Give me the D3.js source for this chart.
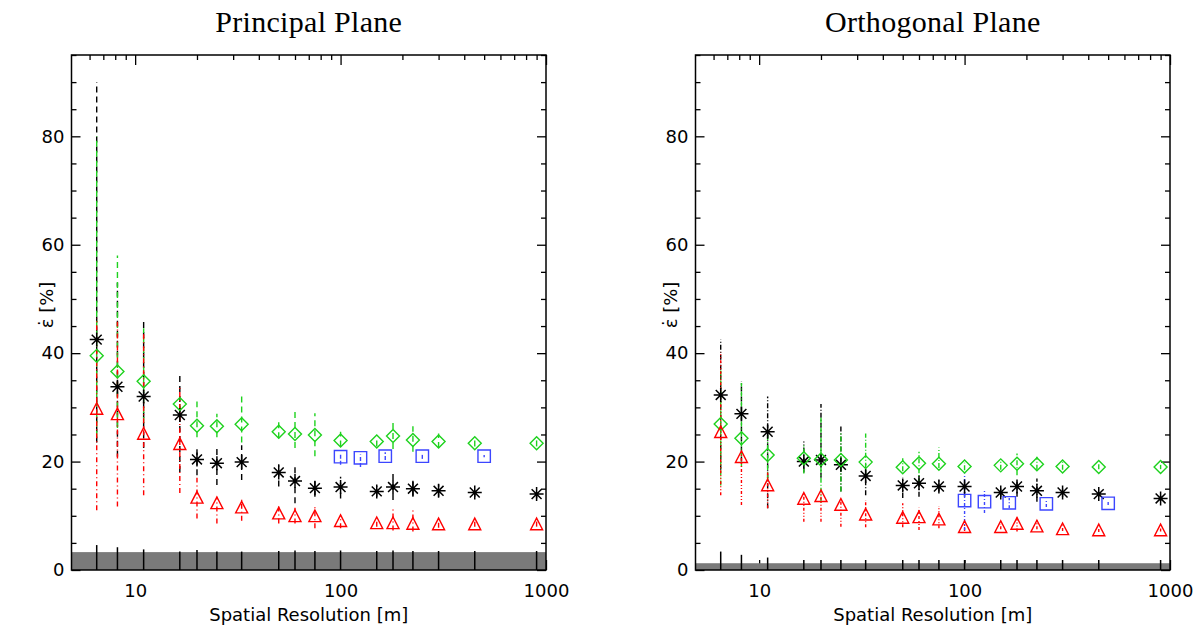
<!DOCTYPE html>
<html><head><meta charset="utf-8">
<script src="https://cdn.jsdelivr.net/npm/d3@7/dist/d3.min.js"></script>
<style>
html,body{margin:0;padding:0;background:#fff;}
svg{display:block;}
</style></head>
<body>
<svg id="chart" width="1204" height="629"></svg>
<script>
// ---------------- DATA ----------------
const titles = ["Principal Plane", "Orthogonal Plane"];
const xLabel = "Spatial Resolution [m]";
const yLabel = "\u03B5\u0307 [%]";
const xTickLabels = [10, 100, 1000];
const yTickLabels = [0, 20, 40, 60, 80];

const resolutions = [6.5, 8.2, 11, 16.5, 20, 25, 33, 50, 60, 75, 100, 150, 180, 225, 300, 450, 900];
const blueRes = [100, 125, 165, 250, 500];

// Principal plane
const ppBlack   = [42.5, 33.8, 32.0, 28.6, 20.4, 19.7, 19.9, 18.0, 16.4, 15.1, 15.3, 14.5, 15.3, 15.0, 14.6, 14.3, 14.0];
const ppBlackHi = [90, 53, 46.5, 36.4, 23, 22.5, 23, 19.5, 19.4, 16.5, 17.2, 15.5, 18.1, 16.6, 15.8, 15, 14.8];
const ppBlackLo = [23.5, 20.9, 22.5, 18.1, 17.5, 15.7, 16.6, 15.4, 12.3, 13.5, 13.2, 13.5, 12.9, 13.5, 13.5, 13.5, 13.2];
const ppGreen   = [39.5, 36.6, 34.8, 30.6, 26.6, 26.5, 26.9, 25.5, 25.1, 24.9, 23.9, 23.7, 24.7, 24.0, 23.7, 23.4, 23.4];
const ppGreenHi = [80, 58, 44.6, 31.5, 31.1, 28.8, 32.2, 27.8, 29.2, 28.9, 25.5, 24.5, 27.2, 26.5, 25.2, 24.2, 24.0];
const ppGreenLo = [24.6, 26.2, 27.1, 29.5, 24.5, 24.5, 23.5, 24.3, 22.5, 21.0, 22.8, 22.8, 22.3, 21.8, 22.5, 22.8, 22.8];
const ppRed     = [29.8, 28.8, 25.2, 23.3, 13.4, 12.4, 11.6, 10.5, 10.0, 10.0, 9.1, 8.7, 8.7, 8.6, 8.5, 8.5, 8.5];
const ppRedHi   = [46.5, 45.8, 43.8, 33.8, 17, 13.5, 13, 12, 11.5, 12, 10, 9.5, 11.7, 11.1, 9.5, 9, 9];
const ppRedLo   = [11, 11.7, 13.8, 14.2, 9.5, 8.6, 9.1, 8.6, 8.6, 7.7, 7.7, 8, 7.3, 7.1, 7.8, 8, 8];
const ppBlue    = [20.9, 20.7, 21.0, 21.0, 21.0];
const ppBlueHi  = [21.5, 21.3, 21.7, 21.5, 21.2];
const ppBlueLo  = [19.4, 19.0, 20.3, 20.5, 20.8];
const ppCounts  = [4.6, 4.2, 3.8, 3.4, 3.7, 3.4, 3.4, 3.5, 3.6, 3.5, 3.6, 3.5, 3.6, 3.5, 3.5, 3.5, 3.5];
const ppBand    = 3.3;

// Orthogonal plane
const opBlack   = [32.3, 28.8, 25.5, 20.0, 20.3, 19.4, 17.35, 15.6, 16.0, 15.4, 15.4, 14.3, 15.4, 14.6, 14.3, 14.0, 13.2];
const opBlackHi = [42.5, 34.8, 32, 23.7, 30.6, 26.8, 19.5, 17, 17.5, 16.5, 16.5, 15, 16.5, 16.9, 15, 14.6, 13.8];
const opBlackLo = [18.5, 20, 11.4, 18, 17, 14.5, 13.8, 13.3, 13.5, 14.5, 13.5, 13.5, 13.5, 12.6, 13.5, 13.5, 12.8];
const opGreen   = [26.95, 24.3, 21.2, 20.6, 20.4, 20.3, 19.9, 18.96, 19.7, 19.6, 19.1, 19.3, 19.6, 19.5, 19.1, 19.0, 19.0];
const opGreenHi = [36.9, 34.5, 25, 23.1, 28.1, 25.2, 25.2, 20.6, 21.8, 22.6, 19.8, 20, 21.5, 20.9, 20, 19.5, 19.4];
const opGreenLo = [15.6, 19.1, 16.6, 17.8, 12.4, 14.5, 17, 18.2, 16.0, 18.8, 18.4, 18.5, 17.5, 18.5, 18.5, 18.6, 18.6];
const opRed     = [25.5, 20.9, 15.7, 13.2, 13.7, 12.1, 10.3, 9.7, 9.8, 9.4, 8.0, 8.0, 8.6, 8.1, 7.6, 7.4, 7.4];
const opRedHi   = [40.2, 22, 18, 14, 15, 13, 12.9, 12.3, 11.5, 11.8, 9, 8.5, 9.8, 9.5, 8.2, 7.9, 7.8];
const opRedLo   = [13.8, 12, 11.4, 8.9, 8.9, 8.0, 7.9, 7.9, 7.4, 7.7, 7.2, 7.5, 7.1, 7.5, 7.2, 7.0, 7.1];
const opBlue    = [12.8, 12.6, 12.4, 12.2, 12.3];
const opBlueHi  = [17.8, 14.8, 13.3, 12.8, 12.6];
const opBlueLo  = [7.4, 10.5, 11.4, 11.6, 12.0];
const opCounts  = [3.4, 2.8, 2.3, 1.85, 1.85, 1.85, 1.85, 1.85, 1.85, 1.85, 1.85, 1.85, 1.85, 1.85, 1.85, 1.85, 1.85];
const opBand    = 1.25;

// ---------------- STYLE / LAYOUT ----------------
const COL = {black: "#000", green: "#1ed21e", red: "#ff0000", blue: "#3c46ff", band: "#7a7a7a"};
const panels = [
  {title: titles[0], x0: 71.5, x1: 546, band: ppBand, counts: ppCounts,
   series: [
     {name: "black", v: ppBlack, hi: ppBlackHi, lo: ppBlackLo, xs: resolutions, dash: "6,4", sym: "star"},
     {name: "green", v: ppGreen, hi: ppGreenHi, lo: ppGreenLo, xs: resolutions, dash: "6,4", sym: "diamond"},
     {name: "red",   v: ppRed,   hi: ppRedHi,   lo: ppRedLo,   xs: resolutions, dash: "5,3,1,3", sym: "triangle"},
     {name: "blue",  v: ppBlue,  hi: ppBlueHi,  lo: ppBlueLo,  xs: blueRes, dash: "4,2", sym: "square"}
   ]},
  {title: titles[1], x0: 695.5, x1: 1170, band: opBand, counts: opCounts,
   series: [
     {name: "black", v: opBlack, hi: opBlackHi, lo: opBlackLo, xs: resolutions, dash: "5,2,1,2", sym: "star"},
     {name: "green", v: opGreen, hi: opGreenHi, lo: opGreenLo, xs: resolutions, dash: "5,2,1,2", sym: "diamond"},
     {name: "red",   v: opRed,   hi: opRedHi,   lo: opRedLo,   xs: resolutions, dash: "3,2,1,2,1,2", sym: "triangle"},
     {name: "blue",  v: opBlue,  hi: opBlueHi,  lo: opBlueLo,  xs: blueRes, dash: "3,2,1,2", sym: "square"}
   ]}
];
const yTop = 55, yBot = 570;
const sansFont = "'DejaVu Sans', sans-serif";

const svg = d3.select("#chart");

const y = d3.scaleLinear().domain([0, 95]).range([yBot, yTop]);
const yMinor = d3.range(0, 96, 5);
const xMinor = [6,7,8,9,20,30,40,50,60,70,80,90,200,300,400,500,600,700,800,900];

function symPath(sym) {
  if (sym === "diamond") { const r = 6.5; return `M0,${-r}L${r},0L0,${r}L${-r},0Z`; }
  if (sym === "triangle") { const w = 6, h = 5.8; return `M0,${-h}L${w},${h}L${-w},${h}Z`; }
  if (sym === "square") { const r = 6.2; return `M${-r},${-r}H${r}V${r}H${-r}Z`; }
  const r = 7, d = r * 0.7071;
  return `M0,${-r}V${r}M${-r},0H${r}M${-d},${-d}L${d},${d}M${-d},${d}L${d},${-d}`;
}

panels.forEach(p => {
  const x = d3.scaleLog().domain([4.9, 1000]).range([p.x0, p.x1]);
  const g = svg.append("g");

  const tickStyle = sel => { sel.select(".domain").remove(); sel.selectAll("line").attr("stroke", "#000").attr("stroke-width", 1.3); };
  // left
  g.append("g").attr("transform", `translate(${p.x0},0)`)
    .call(d3.axisLeft(y).tickValues(yTickLabels).tickSize(-9).tickPadding(7).tickFormat(d3.format("d")))
    .call(tickStyle)
    .call(s => s.selectAll("text").attr("font-family", sansFont).attr("font-size", 18).attr("fill", "#000"));
  g.append("g").attr("transform", `translate(${p.x0},0)`)
    .call(d3.axisLeft(y).tickValues(yMinor.filter(v => v % 20 !== 0)).tickSize(-5).tickFormat(""))
    .call(tickStyle);
  // right
  g.append("g").attr("transform", `translate(${p.x1},0)`)
    .call(d3.axisRight(y).tickValues(yTickLabels).tickSize(-9).tickFormat(""))
    .call(tickStyle);
  g.append("g").attr("transform", `translate(${p.x1},0)`)
    .call(d3.axisRight(y).tickValues(yMinor.filter(v => v % 20 !== 0)).tickSize(-5).tickFormat(""))
    .call(tickStyle);
  // top
  g.append("g").attr("transform", `translate(0,${yTop})`)
    .call(d3.axisTop(x).tickValues(xTickLabels).tickSize(-10).tickFormat(""))
    .call(tickStyle);
  g.append("g").attr("transform", `translate(0,${yTop})`)
    .call(d3.axisTop(x).tickValues(xMinor).tickSize(-5).tickFormat(""))
    .call(tickStyle);
  // bottom
  g.append("g").attr("transform", `translate(0,${yBot})`)
    .call(d3.axisBottom(x).tickValues(xTickLabels).tickSize(-10).tickPadding(14).tickFormat(d3.format("d")))
    .call(tickStyle)
    .call(s => s.selectAll("text").attr("font-family", sansFont).attr("font-size", 18).attr("fill", "#000"));
  g.append("g").attr("transform", `translate(0,${yBot})`)
    .call(d3.axisBottom(x).tickValues(xMinor).tickSize(-5).tickFormat(""))
    .call(tickStyle);

  // gray band
  g.append("rect").attr("x", p.x0).attr("y", y(p.band)).attr("width", p.x1 - p.x0).attr("height", y(0) - y(p.band)).attr("fill", COL.band);

  // frame
  g.append("rect").attr("x", p.x0).attr("y", yTop).attr("width", p.x1 - p.x0).attr("height", yBot - yTop)
    .attr("fill", "none").attr("stroke", "#000").attr("stroke-width", 1.5);

  // bottom count lines
  g.selectAll(".cnt").data(resolutions).enter().append("line")
    .attr("x1", d => x(d)).attr("x2", d => x(d))
    .attr("y1", y(0)).attr("y2", (d, i) => y(p.counts[i]))
    .attr("stroke", "#000").attr("stroke-width", 1.5);

  // error bars
  p.series.forEach(s => {
    g.append("g").selectAll("line").data(s.xs).enter().append("line")
      .attr("x1", d => x(d)).attr("x2", d => x(d))
      .attr("y1", (d, i) => y(s.lo[i])).attr("y2", (d, i) => y(s.hi[i]))
      .attr("stroke", COL[s.name]).attr("stroke-width", 1.4)
      .attr("stroke-dasharray", s.dash);
  });
  // markers
  p.series.forEach(s => {
    g.append("g").selectAll("path").data(s.xs).enter().append("path")
      .attr("transform", (d, i) => `translate(${x(d)},${y(s.v[i])})`)
      .attr("d", symPath(s.sym))
      .attr("fill", "none").attr("stroke", COL[s.name])
      .attr("stroke-width", s.sym === "star" ? 1.5 : 1.4);
  });

  // titles / labels
  const cx = (p.x0 + p.x1) / 2;
  svg.append("text").attr("x", cx).attr("y", 32).attr("text-anchor", "middle")
    .attr("font-family", "'Liberation Serif', 'DejaVu Serif', serif").attr("font-size", 30)
    .attr("letter-spacing", 0.3).text(p.title);
  svg.append("text").attr("x", cx).attr("y", 621).attr("text-anchor", "middle")
    .attr("font-family", sansFont).attr("font-size", 18).text(xLabel);
  svg.append("text").attr("transform", `translate(${p.x0 - 19},${305}) rotate(-90)`).attr("text-anchor", "middle")
    .attr("font-family", sansFont).attr("font-size", 18).text(yLabel);
});
</script>
</body></html>
